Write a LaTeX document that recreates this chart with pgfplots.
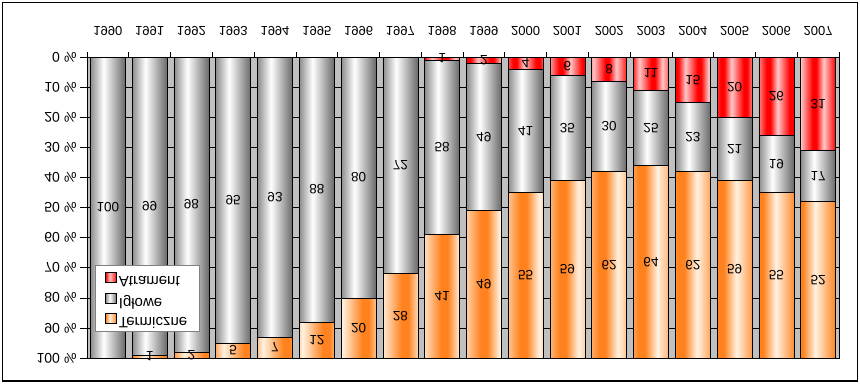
\documentclass[border=0pt]{standalone}
\usepackage{graphicx}
\usepackage{pgfplots}
\usepackage{pgfplotstable}
\pgfplotsset{compat=1.18}
\usepackage{fontspec}
\setmainfont{Liberation Sans}
\definecolor{bgray}{RGB}{192,192,192}
\definecolor{gL}{RGB}{140,140,140}
\definecolor{gR}{RGB}{105,105,105}
\definecolor{oE}{RGB}{255,130,30}
\definecolor{oL}{RGB}{255,242,225}
\definecolor{rE}{RGB}{255,0,0}
\definecolor{rL}{RGB}{255,200,200}
% one cylinder gradient for each of the 18 bars (TikZ maps the path box onto 25bp..75bp)
\newcommand\buildspec[4]{%
  \gdef\tmpspec{color(0bp)=(#2)}%
  \foreach \i in {0,...,17}{%
    \pgfmathsetmacro\La{25+\i*2.80306}%
    \pgfmathsetmacro\Lb{\La+0.38*2.34829}%
    \pgfmathsetmacro\Lc{\La+2.34829}%
    \xdef\tmpspec{\tmpspec; color(\La bp)=(#2); color(\Lb bp)=(#3); color(\Lc bp)=(#4)}%
  }%
  \xdef\tmpspec{\tmpspec; color(100bp)=(#4)}%
  \edef\x{\noexpand\pgfdeclarehorizontalshading{#1}{100bp}{\tmpspec}}\x
}
\buildspec{grayshade}{gL}{white}{gR}
\buildspec{orangeshade}{oE}{oL}{oE}
\buildspec{redshade}{rE}{rL}{rE}
\pgfdeclarehorizontalshading{legred}{100bp}{color(0bp)=(rE); color(25bp)=(rE); color(44bp)=(rL); color(75bp)=(rE); color(100bp)=(rE)}
\pgfdeclarehorizontalshading{leggray}{100bp}{color(0bp)=(gL); color(25bp)=(gL); color(44bp)=(white); color(75bp)=(gR); color(100bp)=(gR)}
\pgfdeclarehorizontalshading{legorange}{100bp}{color(0bp)=(oE); color(25bp)=(oE); color(44bp)=(oL); color(75bp)=(oE); color(100bp)=(oE)}
\newcommand\fl[1]{\scalebox{1}[-1]{#1}}
\newcommand\pc[1]{\fl{#1\hspace{4pt}\%}}
\newcommand\legtxt[1]{\scalebox{1}[-1]{\fontsize{15}{17}\selectfont #1}}
\pgfplotstableread{
x A I T
0 0 100 0
1 0 99 1
2 0 98 2
3 0 95 5
4 0 93 7
5 0 88 12
6 0 80 20
7 0 72 28
8 1 58 41
9 2 49 49
10 4 41 55
11 6 35 59
12 8 30 62
13 11 25 64
14 15 23 62
15 20 21 59
16 26 19 55
17 31 17 52
}\data
\pgfplotstableread{
x y l
0 50 100
1 49.5 99
1 99.5 1
2 49 98
2 99 2
3 47.5 95
3 97.5 5
4 46.5 93
4 96.5 7
5 44 88
5 94 12
6 40 80
6 90 20
7 36 72
7 86 28
8 0.5 1
8 30 58
8 79.5 41
9 1 2
9 26.5 49
9 75.5 49
10 2 4
10 24.5 41
10 72.5 55
11 3 6
11 23.5 35
11 70.5 59
12 4 8
12 23 30
12 69 62
13 5.5 11
13 23.5 25
13 68 64
14 7.5 15
14 26.5 23
14 69 62
15 10 20
15 30.5 21
15 70.5 59
16 13 26
16 35.5 19
16 72.5 55
17 15.5 31
17 39.5 17
17 74 52
}\labels
\pgfplotsset{base/.style={
  at={(463pt,-207.5pt)}, anchor=center,
  width=752pt, height=301pt, scale only axis,
  xmin=-0.5, xmax=17.5, ymin=0, ymax=100, y dir=reverse,
}}
\begin{document}
\begin{tikzpicture}[font=\fontsize{13}{15}\selectfont]
\path[use as bounding box, fill=white] (0,0) rectangle (860pt,-384pt);
\begin{axis}[base,
  ybar stacked, bar width=35pt,
  axis background/.style={fill=bgray},
  axis line style={black, line width=0.8pt},
  ytick={0,10,...,100},
  yticklabels={\pc{0},\pc{10},\pc{20},\pc{30},\pc{40},\pc{50},\pc{60},\pc{70},\pc{80},\pc{90},\pc{100}},
  ytick pos=left,
  ymajorgrids, grid style={black, line width=0.6pt},
  xtick={0,...,17},
  xticklabels={\fl{1990},\fl{1991},\fl{1992},\fl{1993},\fl{1994},\fl{1995},\fl{1996},\fl{1997},\fl{1998},\fl{1999},\fl{2000},\fl{2001},\fl{2002},\fl{2003},\fl{2004},\fl{2005},\fl{2006},\fl{2007}},
  xtick pos=upper, xticklabel pos=upper,
  minor xtick={-0.5,0.5,...,17.5},
  major x tick style={draw=none},
  minor x tick style={black, line width=0.6pt},
  y tick style={black, line width=0.6pt},
  tick align=outside, major tick length=7pt, minor tick length=5pt,
  xticklabel style={font=\fontsize{13}{15}\selectfont, yshift=11pt},
  yticklabel style={font=\fontsize{14}{16}\selectfont, xshift=0pt},
  legend cell align=left,
  area legend,
  legend style={at={(axis description cs:0.0106,0.309)}, anchor=north west,
    draw=gray, fill=white, line width=0.8pt, inner xsep=10pt, inner ysep=7pt, row sep=10pt,
    nodes={inner sep=2pt}},
]
\addplot[draw=black, line width=0.6pt, shade, shading=redshade,
  legend image code/.code={\shade[shading=legred, draw=black, line width=0.5pt] (0pt,-5pt) rectangle (11pt,5pt);}]
  table[x=x,y=A]{\data};
\addplot[draw=black, line width=0.6pt, shade, shading=grayshade,
  legend image code/.code={\shade[shading=leggray, draw=black, line width=0.5pt] (0pt,-5pt) rectangle (11pt,5pt);}]
  table[x=x,y=I]{\data};
\addplot[draw=black, line width=0.6pt, shade, shading=orangeshade,
  legend image code/.code={\shade[shading=legorange, draw=black, line width=0.5pt] (0pt,-5pt) rectangle (11pt,5pt);}]
  table[x=x,y=T]{\data};
\legend{\legtxt{Atrament},\legtxt{Igłowe},\legtxt{Termiczne}}
\end{axis}
\begin{axis}[base, hide axis, clip=false]
\addplot[draw=none, mark=none, nodes near coords={\fl{\pgfplotspointmeta}},
  point meta=explicit symbolic,
  every node near coord/.style={anchor=center, inner sep=0pt, font=\fontsize{13.5}{15}\selectfont}]
  table[x=x,y=y,meta=l]{\labels};
\end{axis}
\draw[black, line width=1.6pt] (2.5pt,-2.5pt) rectangle (857.5pt,-381pt);
\end{tikzpicture}
\end{document}
